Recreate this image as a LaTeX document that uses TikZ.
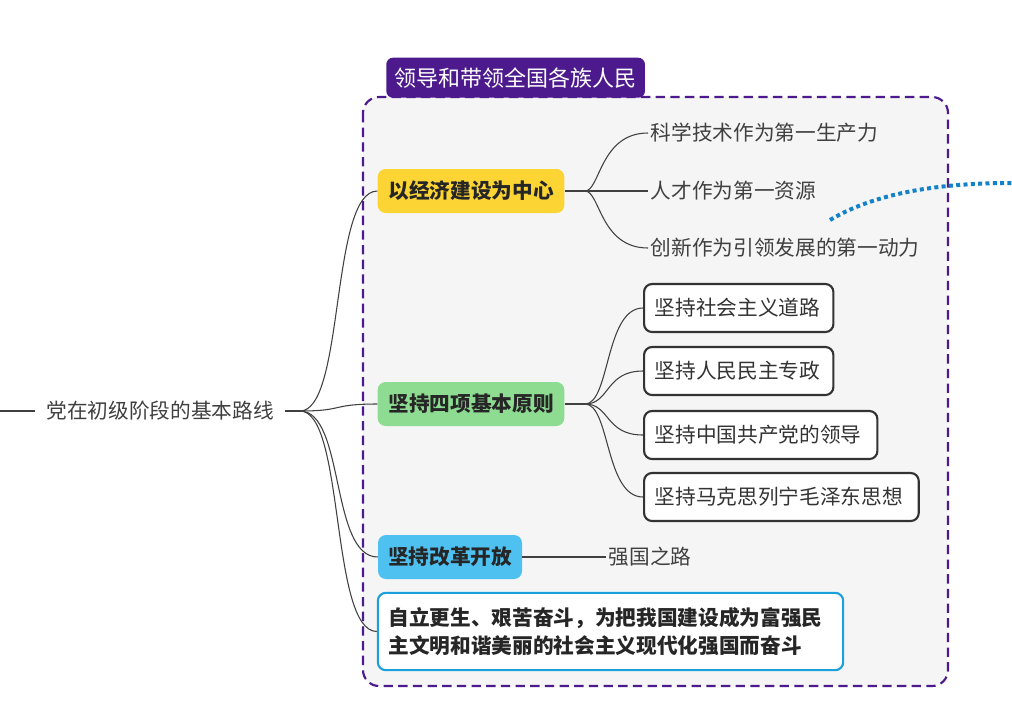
\documentclass[tikz,border=0pt]{standalone}
\usepackage{fontspec}
\setmainfont{Noto Sans CJK SC}
\definecolor{pur}{RGB}{76,26,140}
\begin{document}
\begin{tikzpicture}[x=0.75pt,y=-0.75pt,
  lnk/.style={draw=black!75,line width=0.8pt},
  txt/.style={font=\fontsize{15.5}{18}\selectfont,text=black!75,inner sep=2pt},
  main/.style={rounded corners=6pt,font=\bfseries\fontsize{15.5}{18}\selectfont,text=black!85,inner sep=0pt,minimum height=33pt},
  box/.style={rounded corners=6pt,draw=black!80,line width=1.6pt,fill=white,font=\fontsize{15.5}{18}\selectfont,text=black!80,minimum height=36pt,inner xsep=8pt,text width=#1,align=left},
  box/.default=120pt]
\useasboundingbox (0,0) rectangle (1012,722);
\fill[white] (0,0) rectangle (1012,722);
% group box
\draw[rounded corners=12pt,fill=black!4,draw=pur,dashed,dash pattern=on 7pt off 4pt,line width=1.6pt] (363,97) rectangle (948,686);
\node[fill=pur,rounded corners=5pt,text=white,font=\fontsize{16.5}{18}\selectfont,minimum width=194pt,minimum height=30pt,anchor=south west,inner sep=0pt] (title) at (386,98) {领导和带领全国各族人民};
% root
\node[txt] (root) at (160,411) {党在初级阶段的基本路线};
\coordinate (rl) at (0,411);
\coordinate (rb) at (300,411);
\draw[lnk] (rl) -- (35,411);
\draw[lnk] (285,411) -- (rb);
% main nodes
\node[main,fill={rgb,255:red,252;green,213;blue,53},minimum width=140pt] (a) at (471,191) {以经济建设为中心};
\node[main,fill={rgb,255:red,142;green,220;blue,146},minimum width=140pt] (b) at (471,404) {坚持四项基本原则};
\node[main,fill={rgb,255:red,79;green,193;blue,240},minimum width=108pt] (c) at (450,557) {坚持改革开放};
\node[rounded corners=6pt,draw={rgb,255:red,26;green,160;blue,220},line width=1.6pt,fill=white,font=\bfseries\fontsize{15.5}{21}\selectfont,text=black!85,align=left,text width=333pt,minimum height=58pt,inner xsep=8pt] (d) at (610.5,631.5) {自立更生、艰苦奋斗，为把我国建设成为富强民\\主文明和谐美丽的社会主义现代化强国而奋斗};
\foreach \n in {a,b,c}{\draw[lnk] (rb) .. controls (345,411) and (330,0|-\n.west) .. (\n.west);}
\draw[lnk] (rb) .. controls (345,411) and (330,631) .. (d.west);
% leaves of a
\node[txt,anchor=west] (a1) at (648,133) {科学技术作为第一生产力};
\node[txt,anchor=west] (a2) at (648,191) {人才作为第一资源};
\node[txt,anchor=west] (a3) at (648,248) {创新作为引领发展的第一动力};
\coordinate (ab) at (585,191);
\draw[lnk] (a.east) -- (ab);
\foreach \n in {a1,a2,a3}{\draw[lnk] (ab) .. controls (600,191) and (600,0|-\n.west) .. (\n.west);}
% leaves of b
\node[box=126pt,anchor=west] (b1) at (643,308) {坚持社会主义道路};
\node[box=126pt,anchor=west] (b2) at (643,371) {坚持人民民主专政};
\node[box=159pt,anchor=west] (b3) at (643,435) {坚持中国共产党的领导};
\node[box=190pt,anchor=west] (b4) at (643,497) {坚持马克思列宁毛泽东思想};
\coordinate (bb) at (585,404);
\draw[lnk] (b.east) -- (bb);
\foreach \n in {b1,b2,b3,b4}{\draw[lnk] (bb) .. controls (610,404) and (605,0|-\n.west) .. (\n.west);}
% leaf of c
\node[txt,anchor=west] (c1) at (606,557) {强国之路};
\draw[lnk] (c.east) -- (c1.west);
% dotted curve
\coordinate (p1) at (830,220);
\coordinate (p2) at (1012,183);
\draw[draw={rgb,255:red,20;green,130;blue,200},line width=3pt,dash pattern=on 3pt off 2.5pt] (p1) .. controls (880,190) and (950,183) .. (p2);
\end{tikzpicture}
\end{document}
